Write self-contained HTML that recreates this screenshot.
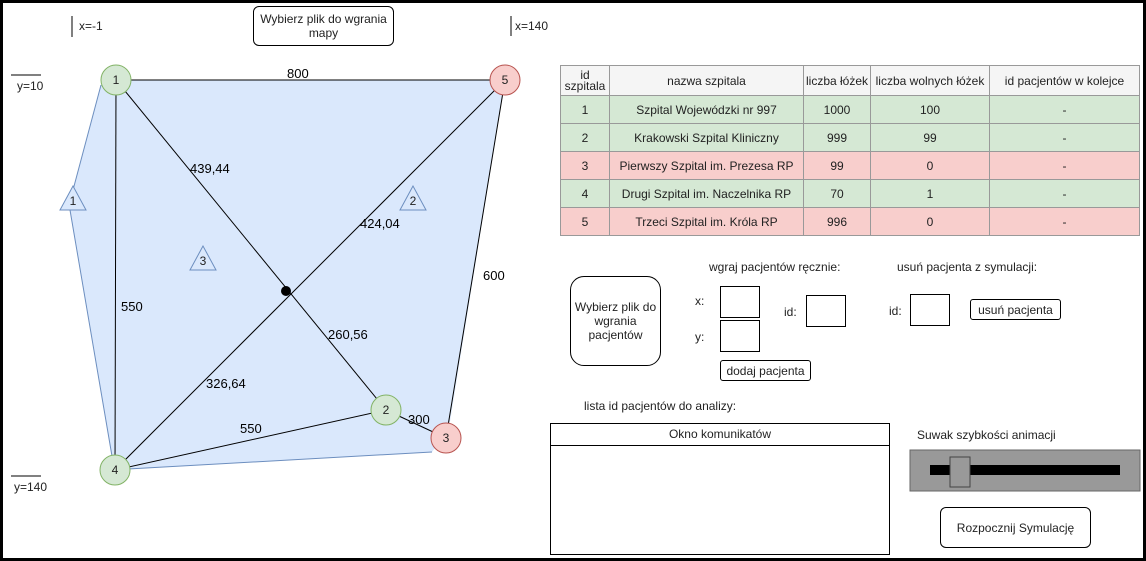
<!DOCTYPE html>
<html><head><meta charset="utf-8"><style>
body{margin:0;width:1146px;height:561px;overflow:hidden;background:#fff;font-family:"Liberation Sans",sans-serif;}
.f{position:absolute;left:0;top:0;width:1140px;height:555px;border:3px solid #000;}
.t{position:absolute;font-size:12px;color:#222;white-space:nowrap}
.b{position:absolute;border:1px solid #000;border-radius:6px;background:#fff;display:flex;align-items:center;justify-content:center;text-align:center;font-size:12px;color:#222;box-sizing:border-box}
.i{position:absolute;border:1px solid #000;width:40px;height:32px;box-sizing:border-box;background:#fff}
table{position:absolute;left:560px;top:65px;border-collapse:collapse;font-size:12px;color:#222;table-layout:fixed;width:580px}
td{border:1px solid #999;text-align:center;height:27px;padding:0;overflow:hidden;white-space:nowrap}
tr.g td{background:#d5e8d4}tr.r td{background:#f8cecc}
tr.h td{background:#f5f5f5;height:29px}
</style></head><body>
<div class="f"></div>
<svg width="1146" height="561" style="position:absolute;left:0;top:0">
<polygon points="116,80 505,80 449,428 432,452 115,470 113,462 70,210 73,190 101,85" fill="#dae8fc" stroke="none"/>
<polyline points="101,85 73,190" fill="none" stroke="#6c8ebf"/>
<polyline points="70,210 113,462" fill="none" stroke="#6c8ebf"/>
<line x1="128" y1="469" x2="432" y2="452" stroke="#6c8ebf"/>
<g stroke="#000" stroke-width="1">
<line x1="116" y1="80" x2="505" y2="80"/>
<line x1="116" y1="80" x2="115" y2="470"/>
<line x1="116" y1="80" x2="386" y2="410"/>
<line x1="505" y1="80" x2="115" y2="470"/>
<line x1="505" y1="80" x2="446" y2="438"/>
<line x1="115" y1="470" x2="386" y2="410"/>
<line x1="386" y1="410" x2="446" y2="438"/>
</g>
<circle cx="286" cy="291" r="5" fill="#000"/>
<g stroke-width="1" font-family="Liberation Sans" font-size="12" text-anchor="middle" fill="#222">
<circle cx="116" cy="80" r="15" fill="#d5e8d4" stroke="#82b366"/><text x="116" y="84">1</text>
<circle cx="505" cy="80" r="15" fill="#f8cecc" stroke="#b85450"/><text x="505" y="84">5</text>
<circle cx="386" cy="410" r="15" fill="#d5e8d4" stroke="#82b366"/><text x="386" y="414">2</text>
<circle cx="446" cy="438" r="15" fill="#f8cecc" stroke="#b85450"/><text x="446" y="442">3</text>
<circle cx="115" cy="470" r="15" fill="#d5e8d4" stroke="#82b366"/><text x="115" y="474">4</text>
<polygon points="73,186 60,210 86,210" fill="#dae8fc" stroke="#6c8ebf"/><text x="73" y="205">1</text>
<polygon points="413,186 400,210 426,210" fill="#dae8fc" stroke="#6c8ebf"/><text x="413" y="205">2</text>
<polygon points="203,246 190,270 216,270" fill="#dae8fc" stroke="#6c8ebf"/><text x="203" y="265">3</text>
</g>
<g font-family="Liberation Sans" font-size="13" fill="#000">
<text x="287" y="78">800</text><text x="190" y="173">439,44</text><text x="360" y="228">424,04</text>
<text x="483" y="280">600</text><text x="121" y="311">550</text><text x="328" y="339">260,56</text>
<text x="206" y="388">326,64</text><text x="240" y="433">550</text><text x="408" y="424">300</text>
</g>
<g stroke="#000"><line x1="72" y1="16" x2="72" y2="37"/><line x1="511" y1="16" x2="511" y2="36"/><line x1="11" y1="75" x2="41" y2="75"/><line x1="11" y1="476" x2="41" y2="476"/></g>
<rect x="910" y="450" width="230" height="41" fill="#999" stroke="#666"/>
<rect x="930" y="465" width="190" height="10" fill="#000"/>
<rect x="950" y="457" width="20" height="30" fill="#999" stroke="#444"/>
</svg>
<div class="t" style="left:79px;top:19px">x=-1</div>
<div class="t" style="left:515px;top:19px">x=140</div>
<div class="t" style="left:17px;top:79px">y=10</div>
<div class="t" style="left:14px;top:480px">y=140</div>
<div class="b" style="left:253px;top:6px;width:141px;height:40px">Wybierz plik do wgrania<br>mapy</div>
<table>
<tr class="h"><td style="width:48px;line-height:11px">id<br>szpitala</td><td style="width:193px">nazwa szpitala</td><td style="width:66px">liczba łóżek</td><td style="width:118px">liczba wolnych łóżek</td><td>id pacjentów w kolejce</td></tr>
<tr class="g"><td>1</td><td>Szpital Wojewódzki nr 997</td><td>1000</td><td>100</td><td>-</td></tr>
<tr class="g"><td>2</td><td>Krakowski Szpital Kliniczny</td><td>999</td><td>99</td><td>-</td></tr>
<tr class="r"><td>3</td><td>Pierwszy Szpital im. Prezesa RP</td><td>99</td><td>0</td><td>-</td></tr>
<tr class="g"><td>4</td><td>Drugi Szpital im. Naczelnika RP</td><td>70</td><td>1</td><td>-</td></tr>
<tr class="r"><td>5</td><td>Trzeci Szpital im. Króla RP</td><td>996</td><td>0</td><td>-</td></tr>
</table>
<div class="b" style="left:570px;top:276px;width:91px;height:90px;border-radius:14px">Wybierz plik do<br>wgrania<br>pacjentów</div>
<div class="t" style="left:709px;top:260px">wgraj pacjentów ręcznie:</div>
<div class="t" style="left:897px;top:260px">usuń pacjenta z symulacji:</div>
<div class="t" style="left:695px;top:294px">x:</div>
<div class="t" style="left:695px;top:330px">y:</div>
<div class="t" style="left:784px;top:305px">id:</div>
<div class="t" style="left:889px;top:304px">id:</div>
<div class="i" style="left:720px;top:286px"></div>
<div class="i" style="left:720px;top:320px"></div>
<div class="i" style="left:806px;top:295px"></div>
<div class="i" style="left:910px;top:294px"></div>
<div class="b" style="left:720px;top:360px;width:91px;height:21px;border-radius:3px">dodaj pacjenta</div>
<div class="b" style="left:970px;top:299px;width:91px;height:21px;border-radius:3px">usuń pacjenta</div>
<div class="t" style="left:584px;top:399px">lista id pacjentów do analizy:</div>
<div style="position:absolute;left:550px;top:423px;width:340px;height:132px;border:1px solid #000;box-sizing:border-box">
<div style="height:21px;border-bottom:1px solid #000;font-size:12px;color:#222;text-align:center;line-height:21px">Okno komunikatów</div></div>
<div class="t" style="left:917px;top:428px">Suwak szybkości animacji</div>
<div class="b" style="left:940px;top:507px;width:151px;height:41px">Rozpocznij Symulację</div>
</body></html>
